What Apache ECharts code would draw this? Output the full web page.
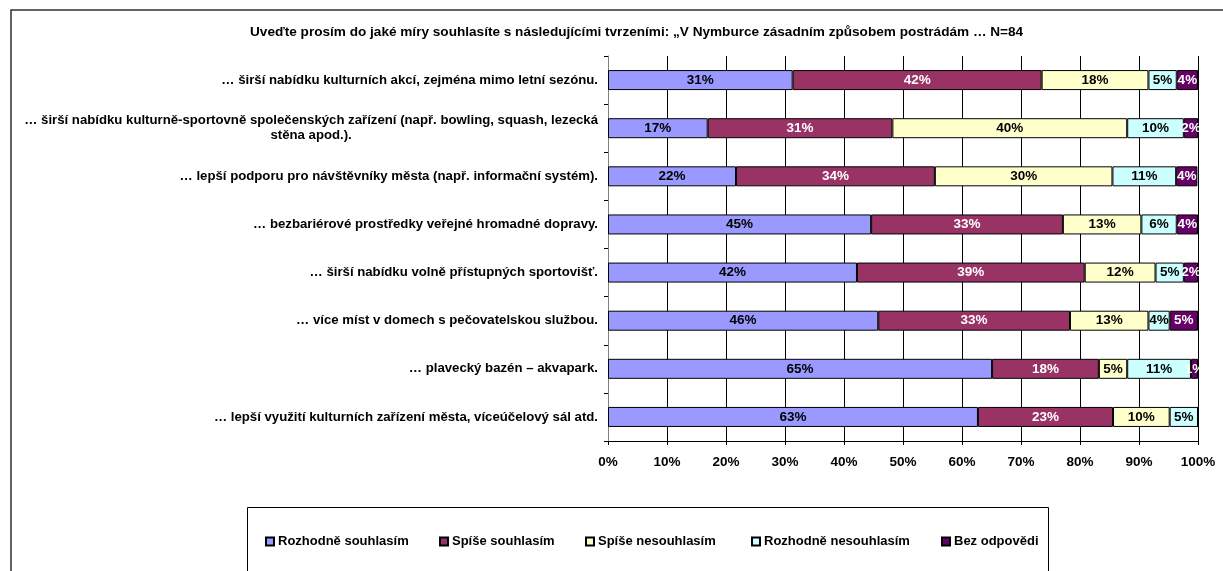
<!DOCTYPE html>
<html>
<head>
<meta charset="utf-8">
<script src="https://cdn.jsdelivr.net/npm/echarts@6/dist/echarts.min.js"></script>
<style>
  html, body { margin: 0; padding: 0; background: #fff; }
  #main { width: 1223px; height: 571px; }
</style>
</head>
<body>
<div id="main"></div>
<script>
var titleText = 'Uveďte prosím do jaké míry souhlasíte s následujícími tvrzeními: „V Nymburce zásadním způsobem postrádám … N=84';

var categories = [
  '… širší nabídku kulturních akcí, zejména mimo letní sezónu.',
  '… širší nabídku kulturně-sportovně společenských zařízení (např. bowling, squash, lezecká\nstěna apod.).',
  '… lepší podporu pro návštěvníky města (např. informační systém).',
  '… bezbariérové prostředky veřejné hromadné dopravy.',
  '… širší nabídku volně přístupných sportovišť.',
  '… více míst v domech s pečovatelskou službou.',
  '… plavecký bazén – akvapark.',
  '… lepší využití kulturních zařízení města, víceúčelový sál atd.'
];

var seriesNames = ['Rozhodně souhlasím', 'Spíše souhlasím', 'Spíše nesouhlasím', 'Rozhodně nesouhlasím', 'Bez odpovědi'];

// percent of respondents
var rozhodneSouhlasim   = [31.3, 16.9, 21.7, 44.6, 42.2, 45.8, 65.1, 62.7];
var spiseSouhlasim      = [42.2, 31.3, 33.7, 32.5, 38.6, 32.5, 18.1, 22.9];
var spiseNesouhlasim    = [18.1, 39.8, 30.1, 13.3, 12.0, 13.3, 4.8, 9.6];
var rozhodneNesouhlasim = [4.8, 9.6, 10.8, 6.0, 4.8, 3.6, 10.8, 4.8];
var bezOdpovedi         = [3.6, 2.4, 3.6, 3.6, 2.4, 4.8, 1.2, 0];

var xTicks = [0, 10, 20, 30, 40, 50, 60, 70, 80, 90, 100];

var values = [rozhodneSouhlasim, spiseSouhlasim, spiseNesouhlasim, rozhodneNesouhlasim, bezOdpovedi];
var colors = ['#9999FF', '#993366', '#FFFFCC', '#CCFFFF', '#660066'];
var labelColors = ['#000', '#fff', '#000', '#000', '#fff'];
var legendLeft = [265, 439, 585, 751, 941];

var FONT = '"Liberation Sans", Arial, sans-serif';

var chart = echarts.init(document.getElementById('main'));

var series = values.map(function (arr, i) {
  return {
    name: seriesNames[i],
    type: 'bar',
    stack: 'total',
    barWidth: 20,
    data: arr,
    itemStyle: { color: colors[i], borderColor: '#000', borderWidth: 1 },
    label: {
      show: true,
      position: 'inside',
      color: labelColors[i],
      fontFamily: FONT,
      fontWeight: 'bold',
      fontSize: 13.5,
      formatter: function (p) {
        return p.value > 0 ? Math.round(p.value) + '%' : '';
      }
    },
    emphasis: { disabled: true }
  };
});

var legends = seriesNames.map(function (n, i) {
  return {
    data: [n],
    left: legendLeft[i],
    top: 535,
    padding: 0,
    itemWidth: 8,
    itemHeight: 8,
    itemGap: 0,
    icon: 'rect',
    textStyle: { fontFamily: FONT, fontWeight: 'bold', fontSize: 13, color: '#000', padding: [0, 0, 0, -1] }
  };
});

var option = {
  animation: false,
  title: {
    text: titleText,
    left: 245,
    top: 20,
    textStyle: { fontFamily: FONT, fontWeight: 'bold', fontSize: 13.6, color: '#000' }
  },
  legend: legends,
  grid: { left: 608, top: 56, width: 590, height: 385, containLabel: false },
  xAxis: {
    type: 'value',
    min: xTicks[0],
    max: xTicks[xTicks.length - 1],
    interval: 10,
    axisLine: { show: true, lineStyle: { color: '#000', width: 1 } },
    axisTick: { show: true, length: 4, lineStyle: { color: '#000' } },
    splitLine: { show: true, lineStyle: { color: '#000', width: 1 } },
    axisLabel: {
      margin: 14,
      fontFamily: FONT,
      fontWeight: 'bold',
      fontSize: 13.5,
      color: '#000',
      formatter: '{value}%'
    }
  },
  yAxis: {
    type: 'category',
    inverse: true,
    data: categories,
    axisLine: { show: true, lineStyle: { color: '#808080', width: 1 } },
    axisTick: { show: true, length: 4, lineStyle: { color: '#000' } },
    axisLabel: {
      margin: 10,
      fontFamily: FONT,
      fontWeight: 'bold',
      fontSize: 13.2,
      color: '#000',
      lineHeight: 15,
      formatter: function (v) {
        return v.split('\n').map(function (s) { return '{c|' + s + '}'; }).join('\n');
      },
      rich: {
        c: { align: 'center', fontFamily: FONT, fontWeight: 'bold', fontSize: 13.2, color: '#000', lineHeight: 15 }
      }
    }
  },
  graphic: [
    {
      type: 'rect',
      shape: { x: 11, y: 10, width: 1400, height: 700 },
      style: { fill: 'none', stroke: '#303030', lineWidth: 1.5 },
      silent: true
    },
    {
      type: 'rect',
      shape: { x: 247.5, y: 507.5, width: 801, height: 100 },
      style: { fill: 'none', stroke: '#000', lineWidth: 1 },
      silent: true
    }
  ],
  series: series
};

chart.setOption(option);
</script>
</body>
</html>
